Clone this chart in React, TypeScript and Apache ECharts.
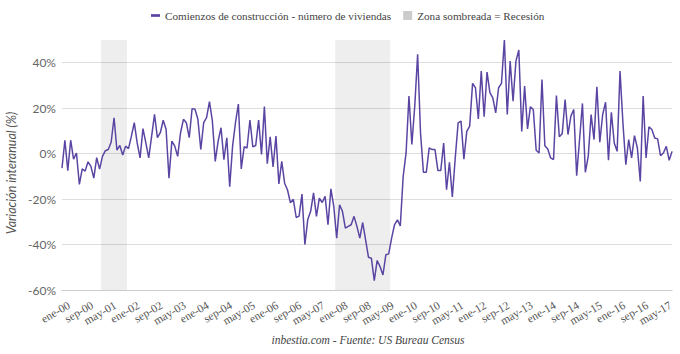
import React, { useEffect, useRef } from 'react';
import * as echarts from 'echarts';

// Spanish month abbreviations used for the category labels
const monthNames = ['ene', 'feb', 'mar', 'abr', 'may', 'jun', 'jul', 'ago', 'sep', 'oct', 'nov', 'dic'];
const startYear = 2000;

// Year-over-year change in housing starts (%), monthly from ene-00 to ago-17
const yoyChange = [
  -6.4, 5.9, -7.5, 5.9, -2.4, 0.3, -13.5, -6.7, -7.7, -3.6, -5.6, -10.8,
  -1.8, -6.8, -1.2, 1.3, 1.8, 5.0, 15.8, 1.5, 3.6, -0.6, 3.3, 2.2,
  7.7, 13.6, 4.7, -1.9, 11.0, 4.7, -1.9, 7.7, 17.3, 7.0, 9.2, 14.7,
  10.7, -10.8, 5.5, 3.3, -1.2, 9.2, 15.1, 13.6, 7.0, 19.8, 19.5, 15.1,
  1.8, 13.6, 15.8, 22.9, 14.4, -3.4, 5.5, 11.4, -2.7, 7.0, -14.5, 3.3,
  13.6, 21.8, -6.7, 3.0, 2.5, 14.8, 3.0, 3.6, 14.8, -0.4, 20.7, -4.4,
  7.4, -5.9, 7.7, -13.3, -3.4, -13.0, -16.0, -21.6, -20.1, -28.1, -27.5, -17.8,
  -40.0, -29.0, -25.4, -17.3, -27.6, -19.6, -21.5, -18.8, -31.3, -15.5, -23.2, -37.2,
  -22.5, -25.4, -32.8, -32.0, -31.3, -27.6, -32.0, -37.2, -30.3, -37.9, -45.6, -46.0,
  -55.9, -47.0, -49.7, -53.4, -44.5, -44.1, -37.2, -31.3, -29.1, -31.8, -10.0, 0.3,
  25.3, 4.0, 20.9, 43.7, 9.1, -8.2, -8.2, 2.5, 1.8, 1.8, -7.4, -7.4,
  4.7, -15.9, -3.8, -19.1, -2.0, 13.5, 14.3, -2.4, 9.8, 12.1, 30.9, 29.0,
  15.3, 36.3, 16.2, 35.9, 26.8, 24.5, 17.9, 29.0, 30.9, 50.0, 17.2, 40.7,
  23.1, 40.7, 45.6, 9.8, 29.7, 10.9, 20.6, 19.4, 1.5, 0.3, 32.6, 3.5,
  2.0, -1.9, -2.6, 25.6, 7.4, 8.8, 23.8, 8.4, 16.5, 19.4, -9.7, 6.2,
  22.1, -8.2, -1.2, 17.2, 6.2, 29.4, 5.0, 17.2, 22.6, -2.9, 18.2, 4.7,
  1.0, 36.3, 13.5, -4.9, 6.2, -1.9, 7.9, 2.5, -12.2, 25.3, -1.9, 11.8,
  10.6, 6.9, 6.5, -0.9, 0.3, 3.2, -2.9, 1.0,
];

const categories = yoyChange.map(
  (_, i) => `${monthNames[i % 12]}-${String((startYear + Math.floor(i / 12)) % 100).padStart(2, '0')}`
);

// Recession periods (NBER)
const recessionFrom = ['mar-01', 'dic-07'];
const recessionTo = ['nov-01', 'jun-09'];

const yTicks = [-60, -40, -20, 0, 20, 40];
const labelEvery = 8; // one axis label every 8 months

const seriesName = 'Comienzos de construcción - número de viviendas';
const shadeName = 'Zona sombreada = Recesión';
const footer = 'inbestia.com - Fuente: US Bureau Census';
const yTitle = 'Variación interanual (%)';

const LINE_COLOR = '#5b45a3';

export default function App() {
  const ref = useRef<HTMLDivElement>(null);

  useEffect(() => {
    if (!ref.current) return;
    const chart = echarts.init(ref.current, undefined, { renderer: 'svg' });
    const lastIndex = categories.length - 1;

    const shadeAreas = recessionFrom.map((f, k) => [
      { xAxis: categories.indexOf(f) - 0.5 },
      { xAxis: categories.indexOf(recessionTo[k]) + 0.5 },
    ]);

    chart.setOption({
      animation: false,
      backgroundColor: '#ffffff',
      grid: { left: 62, right: 7, top: 40, bottom: 64, containLabel: false },
      legend: {
        left: 146,
        top: 5,
        itemWidth: 9,
        itemHeight: 9,
        itemGap: 12,
        symbolKeepAspect: true,
        textStyle: { fontFamily: 'Liberation Serif', fontSize: 11.2, color: '#444' },
        data: [
          { name: seriesName, icon: 'path://M0,0L10,0L10,3L0,3Z' },
          { name: shadeName, icon: 'rect' },
        ],
      },
      xAxis: {
        type: 'value',
        min: 0,
        max: lastIndex,
        interval: labelEvery / 2,
        axisLine: { show: true, onZero: false, lineStyle: { color: '#cccccc' } },
        axisTick: { show: false },
        splitLine: { show: false },
        axisLabel: {
          rotate: 30,
          margin: 2,
          verticalAlign: 'top',
          lineHeight: 28,
          showMinLabel: true,
          showMaxLabel: false,
          fontFamily: 'Liberation Serif',
          fontSize: 11.5,
          color: '#555',
          formatter: (v: number) =>
            Number.isInteger(v) && v % labelEvery === 0 ? categories[v] : '\u00a0',
        },
      },
      yAxis: {
        type: 'value',
        min: yTicks[0],
        max: 50,
        interval: 20,
        axisLine: { show: false },
        axisTick: { show: false },
        splitLine: { show: true, showMaxLine: false, lineStyle: { color: '#dddddd' } },
        axisLabel: {
          showMaxLabel: false,
          margin: 6,
          fontFamily: 'Lato',
          fontSize: 12,
          color: '#666',
          formatter: '{value}%',
        },
      },
      series: [
        {
          name: seriesName,
          type: 'line',
          data: yoyChange.map((v, i) => [i, v]),
          symbol: 'none',
          showSymbol: false,
          color: LINE_COLOR,
          lineStyle: { width: 1.5, color: LINE_COLOR },
          z: 3,
          markArea: {
            silent: true,
            itemStyle: { color: 'rgba(0,0,0,0.065)' },
            data: shadeAreas,
          },
        },
        {
          name: shadeName,
          type: 'line',
          data: [],
          color: '#cccccc',
        },
      ],
      graphic: [
        {
          type: 'text',
          x: 11,
          y: 173,
          rotation: Math.PI / 2,
          style: {
            text: yTitle,
            align: 'center',
            verticalAlign: 'middle',
            font: 'italic 12.5px Lato',
            fill: '#555',
          },
        },
        {
          type: 'text',
          x: 368,
          y: 340,
          style: {
            text: footer,
            align: 'center',
            verticalAlign: 'middle',
            font: 'italic 11.5px "Liberation Serif"',
            fill: '#444',
          },
        },
      ],
    });

    return () => chart.dispose();
  }, []);

  return (
    <div
      ref={ref}
      style={{ position: 'absolute', left: 0, top: 0, width: 680, height: 354 }}
    />
  );
}
